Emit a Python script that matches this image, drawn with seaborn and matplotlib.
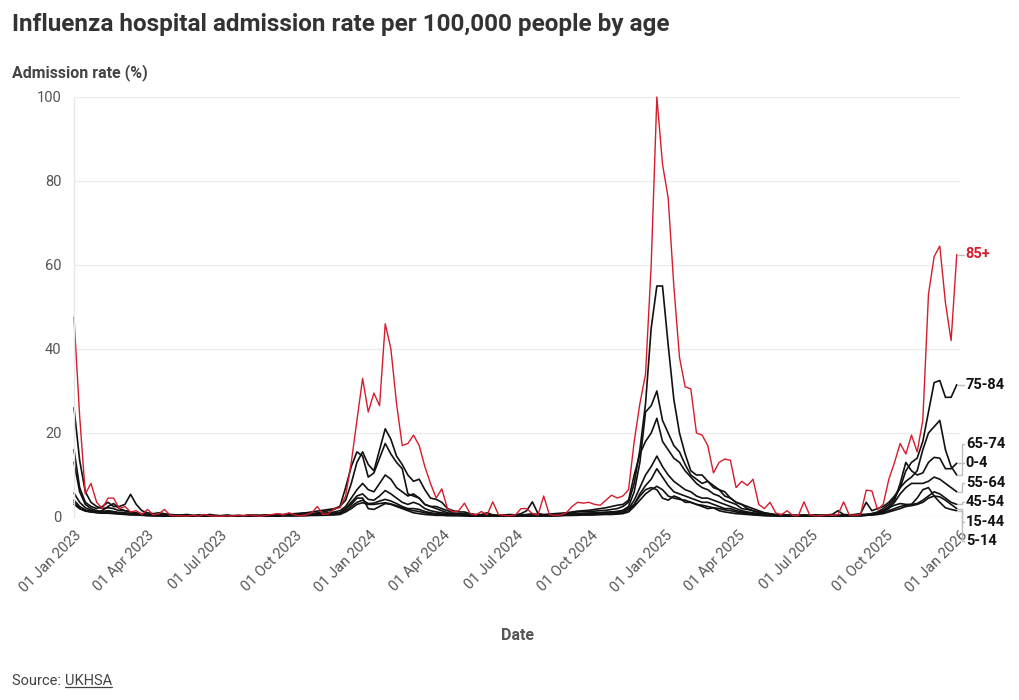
import numpy as np
import pandas as pd
import matplotlib
matplotlib.use("Agg")
import matplotlib.pyplot as plt
import matplotlib.dates as mdates
from matplotlib.lines import Line2D
import seaborn as sns

# ------------------------------------------------------------------
# data: weekly admission rate per 100,000, first week = 01 Jan 2023
# (each line below is one quarter of weeks)
# ------------------------------------------------------------------
START = "2023-01-01"
AGES = ["85+", "75-84", "65-74", "0-4", "55-64", "45-54", "15-44", "5-14"]

RATE_85_PLUS = (
    [47.5, 24, 5.5, 8, 3.5, 2, 4.5, 4.5, 2, 2.5, 1.2, 1.5, 0.6]
    + [1.8, 0.5, 0.8, 1.8, 0.4, 0.3, 0.3, 0.2, 0.4, 0.2, 0.6, 0.3, 0.2]
    + [0.2, 0.3, 0.2, 0.4, 0.3, 0.5, 0.3, 0.2, 0.4, 0.6, 0.8, 0.5, 1.0]
    + [0.5, 0.3, 0.5, 1, 2.5, 0.6, 0.8, 2, 2.2, 5, 13, 23, 33]
    + [25, 29.5, 26.5, 46, 40, 27, 17, 17.5, 19.5, 17, 12, 8, 4.5]
    + [6.7, 2, 1.2, 1.5, 3.3, 0.8, 0.5, 1.3, 0.5, 3.6, 0.6, 0.4, 0.3]
    + [0.5, 2, 2, 0.8, 0.5, 5, 0.6, 0.4, 0.5, 1, 2.5, 3.5, 3.3]
    + [3.5, 3, 2.8, 4, 5.2, 4.5, 5, 6.5, 18, 27, 34, 60, 100]
    + [84, 76, 55, 38, 31, 30.5, 20, 19.5, 17, 10.5, 13, 13.8, 13.5]
    + [7, 8.5, 7.5, 9, 3, 2, 3.5, 1, 0.5, 1.5, 0.4, 0.3, 3.6]
    + [0.5, 0.3, 0.3, 0.5, 0.4, 0.5, 3.6, 0.5, 0.4, 0.6, 6.4, 6.2, 1.7]
    + [3, 9, 13, 17.5, 15, 19.5, 15.5, 23, 53, 62, 64.5, 51, 42, 62.5]
)
RATE_75_84 = (
    [26, 13.5, 6, 3.5, 2.5, 2, 2.2, 2, 1.5, 1.5, 1.2, 1, 0.8]
    + [0.7, 0.6, 0.5, 0.5, 0.4, 0.4, 0.3, 0.3, 0.3, 0.3, 0.3, 0.3, 0.3]
    + [0.3, 0.3, 0.3, 0.3, 0.3, 0.4, 0.4, 0.4, 0.5, 0.5, 0.6, 0.6, 0.7]
    + [0.8, 0.9, 1, 1.2, 1.4, 1.6, 1.8, 2, 2.5, 4, 8, 13, 15.5]
    + [12.5, 11, 16, 21, 18.5, 14.5, 12.5, 10, 8.5, 9, 6.5, 4.5, 4.2]
    + [3.5, 2, 1.5, 1.2, 1.2, 0.8, 0.6, 0.5, 0.5, 0.5, 0.4, 0.4, 0.4]
    + [0.4, 0.5, 0.6, 0.8, 0.6, 0.5, 0.5, 0.6, 0.7, 0.8, 1, 1.2, 1.3]
    + [1.3, 1.4, 1.5, 1.6, 1.8, 2, 2.5, 3.5, 8, 16, 27, 45, 55]
    + [55, 41, 28, 20, 15, 11, 10, 10, 8.5, 7.5, 6.5, 5, 4.5]
    + [3.5, 3, 2.5, 2, 1.5, 1, 0.8, 0.6, 0.5, 0.5, 0.4, 0.4, 0.4]
    + [0.4, 0.4, 0.4, 0.4, 0.4, 0.4, 0.5, 0.5, 0.5, 0.6, 0.6, 0.8, 1.2]
    + [2, 3, 4.5, 7, 11, 13, 14, 18, 25, 32, 32.5, 28.5, 28.5, 31.5]
)
RATE_65_74 = (
    [13, 6, 3, 2, 1.5, 1.3, 1.5, 1.3, 1, 1, 0.8, 0.7, 0.6]
    + [0.5, 0.4, 0.4, 0.3, 0.3, 0.3, 0.2, 0.2, 0.2, 0.2, 0.2, 0.2, 0.2]
    + [0.2, 0.2, 0.2, 0.2, 0.2, 0.3, 0.3, 0.3, 0.3, 0.3, 0.4, 0.4, 0.4]
    + [0.5, 0.5, 0.6, 0.7, 0.8, 0.9, 1, 1.2, 1.5, 2.5, 4.5, 6.5, 8]
    + [6.5, 6, 8, 10, 9, 7, 6, 5, 5.5, 4.5, 3, 2.5, 2]
    + [1.5, 1, 0.8, 0.6, 0.6, 0.5, 0.4, 0.4, 0.3, 0.3, 0.3, 0.3, 0.3]
    + [0.3, 0.3, 0.4, 0.5, 0.4, 0.4, 0.4, 0.4, 0.5, 0.6, 0.7, 0.8, 0.9]
    + [0.9, 1, 1, 1.1, 1.2, 1.3, 1.6, 2.5, 6, 13, 25, 26.5, 30]
    + [23, 20, 17, 15.5, 12.5, 10, 9, 8, 8.5, 7, 6.5, 6, 4.5]
    + [3.5, 3, 2, 1.5, 1.2, 1, 0.7, 0.5, 0.4, 0.4, 0.3, 0.3, 0.3]
    + [0.3, 0.3, 0.3, 0.3, 0.3, 0.3, 0.4, 0.4, 0.4, 0.5, 0.6, 0.8, 1]
    + [1.5, 2.5, 4, 8, 13, 11, 10, 10.5, 13, 14.2, 14, 11.5, 11.5, 12.8]
)
RATE_0_4 = (
    [16, 7, 3.5, 2.5, 2, 2.5, 3.5, 2.5, 2.5, 3, 5.4, 3, 1.5]
    + [1, 0.8, 1, 0.8, 0.6, 0.5, 0.5, 0.6, 0.4, 0.5, 0.4, 0.6, 0.4]
    + [0.3, 0.5, 0.3, 0.4, 0.3, 0.5, 0.4, 0.3, 0.5, 0.4, 0.6, 0.5, 0.8]
    + [0.6, 0.8, 1, 0.8, 1, 1.2, 1.5, 1.8, 2.5, 7, 12, 15.5, 14.5]
    + [9.5, 10.5, 14, 17.5, 15, 13, 11.5, 5.5, 5, 4.5, 3, 2.5, 2.5]
    + [2, 1.5, 1, 0.8, 0.8, 0.6, 0.5, 0.6, 1, 0.5, 0.4, 0.5, 0.6]
    + [0.5, 0.8, 1.5, 3.6, 0.8, 0.6, 0.7, 0.8, 0.9, 1, 1.2, 1.4, 1.5]
    + [1.6, 1.8, 2, 2.2, 2.5, 2.8, 3, 4, 10, 15, 18, 20, 23.5]
    + [18, 16, 14, 13, 11, 9.5, 8, 7, 6.5, 5.5, 5, 4, 3.5]
    + [3, 2, 1.8, 1.5, 1, 0.8, 0.6, 0.5, 0.6, 0.5, 0.4, 0.4, 0.5]
    + [0.4, 0.5, 0.4, 0.5, 0.6, 1.5, 0.6, 0.5, 0.6, 0.8, 3.5, 1.5, 2]
    + [2.5, 3.5, 5, 7, 8.5, 9.5, 11, 16, 20, 21.5, 23, 16, 12, 10]
)
RATE_55_64 = (
    [5.7, 3.5, 2.2, 1.6, 1.3, 1.2, 1.3, 1.2, 1, 0.9, 0.8, 0.7, 0.6]
    + [0.5, 0.4, 0.4, 0.3, 0.3, 0.3, 0.2, 0.2, 0.2, 0.2, 0.2, 0.2, 0.2]
    + [0.2, 0.2, 0.2, 0.2, 0.2, 0.2, 0.3, 0.3, 0.3, 0.3, 0.3, 0.4, 0.4]
    + [0.4, 0.5, 0.5, 0.6, 0.6, 0.7, 0.8, 0.9, 1, 2, 3.5, 5, 5.5]
    + [4.2, 4, 5, 6.3, 5.5, 4.5, 3.5, 3, 3.5, 3, 2, 1.5, 1.2]
    + [1, 0.8, 0.6, 0.5, 0.5, 0.4, 0.4, 0.3, 0.3, 0.3, 0.3, 0.3, 0.3]
    + [0.3, 0.3, 0.3, 0.4, 0.4, 0.4, 0.4, 0.4, 0.5, 0.5, 0.6, 0.6, 0.7]
    + [0.7, 0.8, 0.8, 0.9, 1, 1, 1.2, 2, 4, 7, 10, 12, 14.5]
    + [12, 10, 8.5, 7.5, 6.5, 6, 5, 4.5, 4.5, 4, 3.5, 3, 2.5]
    + [2, 1.5, 1.2, 1, 0.8, 0.6, 0.5, 0.4, 0.4, 0.3, 0.3, 0.3, 0.3]
    + [0.3, 0.3, 0.3, 0.3, 0.3, 0.3, 0.3, 0.4, 0.4, 0.4, 0.5, 0.6, 0.8]
    + [1.2, 2, 3.5, 5.5, 7, 8, 8, 8, 8.5, 9.5, 9, 8, 7, 6]
)
RATE_45_54 = (
    [4, 2.5, 1.7, 1.3, 1.1, 1, 1, 0.9, 0.8, 0.7, 0.6, 0.5, 0.5]
    + [0.4, 0.3, 0.3, 0.3, 0.2, 0.2, 0.2, 0.2, 0.2, 0.2, 0.2, 0.2, 0.2]
    + [0.2, 0.2, 0.2, 0.2, 0.2, 0.2, 0.2, 0.2, 0.2, 0.3, 0.3, 0.3, 0.3]
    + [0.3, 0.3, 0.4, 0.4, 0.4, 0.5, 0.5, 0.6, 0.8, 1.5, 2.5, 3.5, 4]
    + [3.2, 3.3, 3.8, 4.2, 3.8, 3.2, 2.5, 2, 2, 1.8, 1.3, 1, 0.8]
    + [0.7, 0.6, 0.5, 0.4, 0.4, 0.3, 0.3, 0.3, 0.3, 0.2, 0.2, 0.2, 0.2]
    + [0.2, 0.2, 0.3, 0.3, 0.3, 0.3, 0.3, 0.3, 0.4, 0.4, 0.4, 0.5, 0.5]
    + [0.5, 0.6, 0.6, 0.7, 0.7, 0.8, 1, 1.5, 3, 5.5, 7.5, 9, 11.5]
    + [9.5, 7.5, 6, 5.5, 5, 4.5, 4, 3.5, 3.5, 3, 2.5, 2, 2]
    + [1.5, 1.2, 1, 0.8, 0.6, 0.5, 0.4, 0.3, 0.3, 0.3, 0.2, 0.2, 0.2]
    + [0.2, 0.2, 0.2, 0.2, 0.2, 0.2, 0.3, 0.3, 0.3, 0.3, 0.4, 0.5, 0.7]
    + [1, 1.5, 2, 2.5, 2.8, 3, 3.2, 4, 5, 6, 5.5, 4.5, 3.5, 3]
)
RATE_15_44 = (
    [3, 2, 1.5, 1.2, 1, 0.9, 0.9, 0.8, 0.7, 0.6, 0.5, 0.5, 0.4]
    + [0.3, 0.3, 0.3, 0.2, 0.2, 0.2, 0.2, 0.2, 0.2, 0.2, 0.2, 0.2, 0.2]
    + [0.2, 0.2, 0.2, 0.2, 0.2, 0.2, 0.2, 0.2, 0.2, 0.2, 0.2, 0.3, 0.3]
    + [0.3, 0.3, 0.3, 0.4, 0.4, 0.4, 0.5, 0.5, 0.6, 1.2, 2, 3, 3.4]
    + [3, 3, 3.2, 3.4, 3.1, 2.7, 2.2, 1.8, 1.5, 1.3, 1, 0.8, 0.7]
    + [0.6, 0.5, 0.4, 0.4, 0.3, 0.3, 0.3, 0.3, 0.2, 0.2, 0.2, 0.2, 0.2]
    + [0.2, 0.2, 0.2, 0.3, 0.3, 0.3, 0.3, 0.3, 0.3, 0.4, 0.4, 0.4, 0.5]
    + [0.5, 0.5, 0.6, 0.6, 0.6, 0.7, 0.8, 1.2, 2.5, 4, 5.5, 6.5, 7.3]
    + [6.5, 5, 4.5, 4.2, 4, 3.5, 3, 2.8, 2.5, 2.2, 2, 1.7, 1.5]
    + [1.2, 1, 0.8, 0.6, 0.5, 0.4, 0.3, 0.3, 0.3, 0.2, 0.2, 0.2, 0.2]
    + [0.2, 0.2, 0.2, 0.2, 0.2, 0.2, 0.2, 0.3, 0.3, 0.3, 0.4, 0.5, 0.6]
    + [0.8, 1.2, 1.6, 2, 2.5, 2.7, 3, 3.5, 4.5, 5, 4.8, 4, 3, 2]
)
RATE_5_14 = (
    [3.5, 2, 1.4, 1.2, 1.2, 1.5, 2.5, 3.2, 2, 1.5, 1.2, 0.8, 0.6]
    + [0.5, 0.4, 0.4, 0.3, 0.3, 0.3, 0.3, 0.4, 0.3, 0.2, 0.2, 0.2, 0.2]
    + [0.2, 0.2, 0.2, 0.2, 0.2, 0.2, 0.2, 0.3, 0.3, 0.3, 0.4, 0.5, 0.5]
    + [0.4, 0.5, 0.6, 0.5, 0.6, 0.7, 0.8, 0.9, 1, 2, 3, 4.5, 4.5]
    + [2, 1.8, 2.5, 3.2, 3, 2.5, 2, 1.5, 1, 0.8, 0.6, 0.5, 0.4]
    + [0.4, 0.3, 0.3, 0.3, 0.3, 0.2, 0.2, 0.2, 0.2, 0.2, 0.2, 0.2, 0.2]
    + [0.2, 0.2, 0.2, 0.2, 0.3, 0.3, 0.3, 0.3, 0.4, 0.5, 0.6, 0.7, 0.8]
    + [0.9, 1, 1, 1.1, 1.2, 1.3, 1.5, 2, 3, 5, 6.5, 7, 6.5]
    + [4.5, 4, 5, 4.5, 3.5, 3.5, 3, 2.5, 2, 2.2, 1.5, 1.2, 1]
    + [0.8, 0.7, 0.6, 0.5, 0.4, 0.3, 0.3, 0.3, 0.2, 0.2, 0.2, 0.2, 0.2]
    + [0.2, 0.2, 0.2, 0.2, 0.2, 0.2, 0.3, 0.3, 0.3, 0.4, 0.5, 0.6, 1]
    + [1.5, 2.2, 2.8, 3.2, 3, 3, 4.5, 6.5, 7, 5, 3.5, 2.2, 1.8, 1.5]
)

SERIES = {
    "85+": RATE_85_PLUS, "75-84": RATE_75_84, "65-74": RATE_65_74,
    "0-4": RATE_0_4, "55-64": RATE_55_64, "45-54": RATE_45_54,
    "15-44": RATE_15_44, "5-14": RATE_5_14,
}
for k, v in SERIES.items():
    assert len(v) == 157, (k, len(v))

RED = "#d41c2c"
INK = "#111111"

dates = pd.date_range(START, periods=157, freq="7D")
df = pd.concat(
    [pd.DataFrame({"date": dates, "rate": v, "age": k}) for k, v in SERIES.items()],
    ignore_index=True,
)

# ------------------------------------------------------------------
# style
# ------------------------------------------------------------------
sns.set_theme(style="white")
plt.rcParams["font.family"] = ["Roboto", "DejaVu Sans"]

fig = plt.figure(figsize=(10.2, 7), dpi=100)
ax = fig.add_axes([74 / 1020, 1 - 517 / 700, 886 / 1020, 420 / 700])

palette = {k: (RED if k == "85+" else INK) for k in AGES}
order = AGES[1:] + ["85+"]  # red drawn on top
sns.lineplot(data=df, x="date", y="rate", hue="age", hue_order=order,
             palette=palette, linewidth=1.2, legend=False, errorbar=None, ax=ax)
for ln in ax.lines:
    ln.set_clip_on(False)
    ln.set_solid_joinstyle("round")
    if ln.get_label() == "85+" or ln.get_color() == RED:
        ln.set_linewidth(1.0)

ax.set_ylim(0, 100)
ax.set_xlim(pd.Timestamp("2023-01-01"), pd.Timestamp("2026-01-01"))
ax.set_yticks([0, 20, 40, 60, 80, 100])
ax.yaxis.grid(True, color="#ececec", linewidth=1)
ax.xaxis.grid(False)
for s in ["top", "right", "bottom"]:
    ax.spines[s].set_visible(False)
ax.spines["left"].set_color("#e6e6e6")
ax.spines["left"].set_linewidth(1)

ax.xaxis.set_major_locator(mdates.MonthLocator(bymonth=[1, 4, 7, 10], bymonthday=1))
ax.xaxis.set_major_formatter(mdates.DateFormatter("%d %b %Y"))
ax.tick_params(axis="x", length=4, color="#cccccc", width=1, pad=4,
               labelsize=10.5, labelcolor="#555555")
ax.tick_params(axis="y", length=0, pad=9, labelsize=10.5, labelcolor="#555555")
for lab in ax.get_xticklabels():
    lab.set_rotation(45)
    lab.set_ha("right")
    lab.set_va("top")
    lab.set_rotation_mode("anchor")
ax.set_xlabel("")
ax.set_ylabel("")

# ------------------------------------------------------------------
# end labels, dodged so they do not overlap
# ------------------------------------------------------------------
px_per_unit = ax.bbox.height / 100
gap = 19.5 / px_per_unit
ends = sorted(((SERIES[k][-1], k) for k in AGES), reverse=True)
clusters = [[e] for e in ends]


def place(cl):
    c = np.mean([e[0] for e in cl])
    n = len(cl)
    return [c + gap * ((n - 1) / 2 - i) for i in range(n)]


merged = True
while merged:
    merged = False
    for i in range(len(clusters) - 1):
        if place(clusters[i])[-1] - place(clusters[i + 1])[0] < gap:
            clusters[i] = clusters[i] + clusters.pop(i + 1)
            merged = True
            break

label_y = {}
for cl in clusters:
    for (val, k), y in zip(cl, place(cl)):
        label_y[k] = y

x_end = mdates.date2num(dates[-1])
to_fig = fig.transFigure.inverted()
for k in AGES:
    xe, ye = ax.transData.transform((x_end, SERIES[k][-1]))
    _, yl = ax.transData.transform((x_end, label_y[k]))
    pts = np.array([(xe + 1, ye), (xe + 5, ye), (xe + 5, yl), (xe + 7, yl)])
    fig.add_artist(Line2D(*to_fig.transform(pts).T, transform=fig.transFigure,
                          color="#bdbdbd", linewidth=1))
    tx, ty = to_fig.transform((xe + 9, yl))
    fig.text(tx, ty, k, ha="left", va="center", fontsize=10.5, fontweight="bold",
             color=RED if k == "85+" else INK)

# ------------------------------------------------------------------
# titles and source
# ------------------------------------------------------------------
fig.text(12 / 1020, 1 - 25 / 700, "Influenza hospital admission rate per 100,000 people by age",
         ha="left", va="center", fontsize=17.5, fontweight="bold", color="#333333")
fig.text(12 / 1020, 1 - 73 / 700, "Admission rate (%)", ha="left", va="center",
         fontsize=11.5, fontweight="bold", color="#444444")
fig.text(518 / 1020, 1 - 636 / 700, "Date", ha="center", va="center",
         fontsize=11.5, fontweight="bold", color="#555555")
src = fig.text(12 / 1020, 1 - 681 / 700, "Source: ", ha="left", va="center",
               fontsize=10.5, color="#444444")
fig.canvas.draw()
bb = src.get_window_extent()
link = fig.text(bb.x1 / fig.bbox.width, 1 - 681 / 700, "UKHSA", ha="left", va="center",
                fontsize=10.5, color="#444444")
fig.canvas.draw()
lb = link.get_window_extent()
ux = [lb.x0, lb.x1]
uy = [lb.y0 + 1, lb.y0 + 1]
fig.add_artist(Line2D(*to_fig.transform(np.column_stack([ux, uy])).T,
                      transform=fig.transFigure, color="#444444", linewidth=0.9))

fig.savefig("out.png", dpi=100)
